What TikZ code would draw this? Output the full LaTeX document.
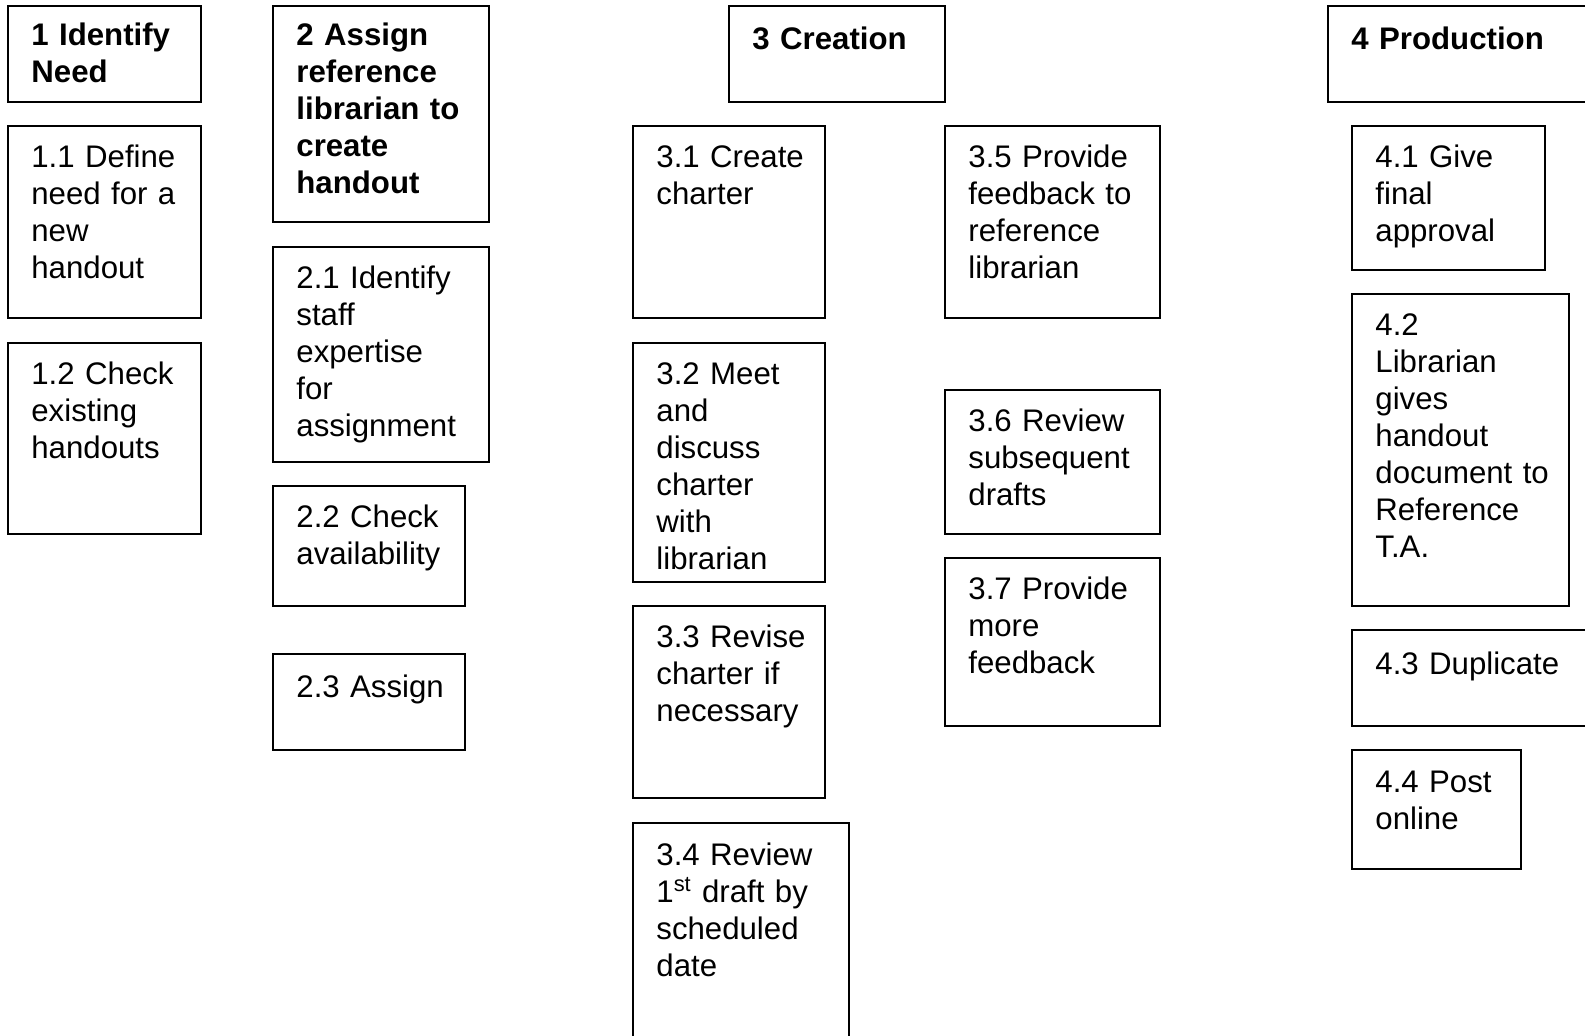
\documentclass[tikz,border=0pt]{standalone}
\usepackage{fontspec}
\setmainfont{Liberation Sans}
\begin{document}
\begin{tikzpicture}[x=0.5pt,y=-0.5pt]
\tikzstyle{every node}+=[inner sep=0pt]
\tikzstyle{task}=[anchor=base west, text width=180pt, align=left, font=\fontsize{15.6pt}{18.5pt}\selectfont]
\tikzstyle{head}=[task, font=\fontsize{15.6pt}{18.5pt}\selectfont\bfseries]
\tikzstyle{frame}=[black, line width=1pt]
\useasboundingbox (0,0) rectangle (1585,1036);
% column 1
\draw [frame] (8,6) rectangle (201,102);
\node [head] (h1) at (31,46) {1 Identify\\Need};
\draw [frame] (8,126) rectangle (201,318);
\node [task] (t11) at (31,168) {1.1 Define\\need for a\\new\\handout};
\draw [frame] (8,343) rectangle (201,534);
\node [task] (t12) at (31,385) {1.2 Check\\existing\\handouts};
% column 2
\draw [frame] (273,6) rectangle (489,222);
\node [head] (h2) at (296,46) {2 Assign\\reference\\librarian to\\create\\handout};
\draw [frame] (273,247) rectangle (489,462);
\node [task] (t21) at (296,289) {2.1 Identify\\staff\\expertise\\for\\assignment};
\draw [frame] (273,486) rectangle (465,606);
\node [task] (t22) at (296,528) {2.2 Check\\availability};
\draw [frame] (273,654) rectangle (465,750);
\node [task] (t23) at (296,698) {2.3 Assign};
% column 3
\draw [frame] (729,6) rectangle (945,102);
\node [head] (h3) at (752,50) {3 Creation};
\draw [frame] (633,126) rectangle (825,318);
\node [task] (t31) at (656,168) {3.1 Create\\charter};
\draw [frame] (633,343) rectangle (825,582);
\node [task] (t32) at (656,385) {3.2 Meet\\and\\discuss\\charter\\with\\librarian};
\draw [frame] (633,606) rectangle (825,798);
\node [task] (t33) at (656,648) {3.3 Revise\\charter if\\necessary};
\draw [frame] (633,823) rectangle (849,1050);
\node [task] (t34) at (656,865) {3.4 Review\\1\textsuperscript{st} draft by\\scheduled\\date};
\draw [frame] (945,126) rectangle (1160,318);
\node [task] (t35) at (968,168) {3.5 Provide\\feedback to\\reference\\librarian};
\draw [frame] (945,390) rectangle (1160,534);
\node [task] (t36) at (968,432) {3.6 Review\\subsequent\\drafts};
\draw [frame] (945,558) rectangle (1160,726);
\node [task] (t37) at (968,600) {3.7 Provide\\more\\feedback};
% column 4
\draw [frame] (1328,6) rectangle (1600,102);
\node [head] (h4) at (1351,50) {4 Production};
\draw [frame] (1352,126) rectangle (1545,270);
\node [task] (t41) at (1375,168) {4.1 Give\\final\\approval};
\draw [frame] (1352,294) rectangle (1569,606);
\node [task] (t42) at (1375,336) {4.2\\Librarian\\gives\\handout\\document to\\Reference\\T.A.};
\draw [frame] (1352,630) rectangle (1600,726);
\node [task] (t43) at (1375,675) {4.3 Duplicate};
\draw [frame] (1352,750) rectangle (1521,869);
\node [task] (t44) at (1375,792) {4.4 Post\\online};
\end{tikzpicture}
\end{document}
